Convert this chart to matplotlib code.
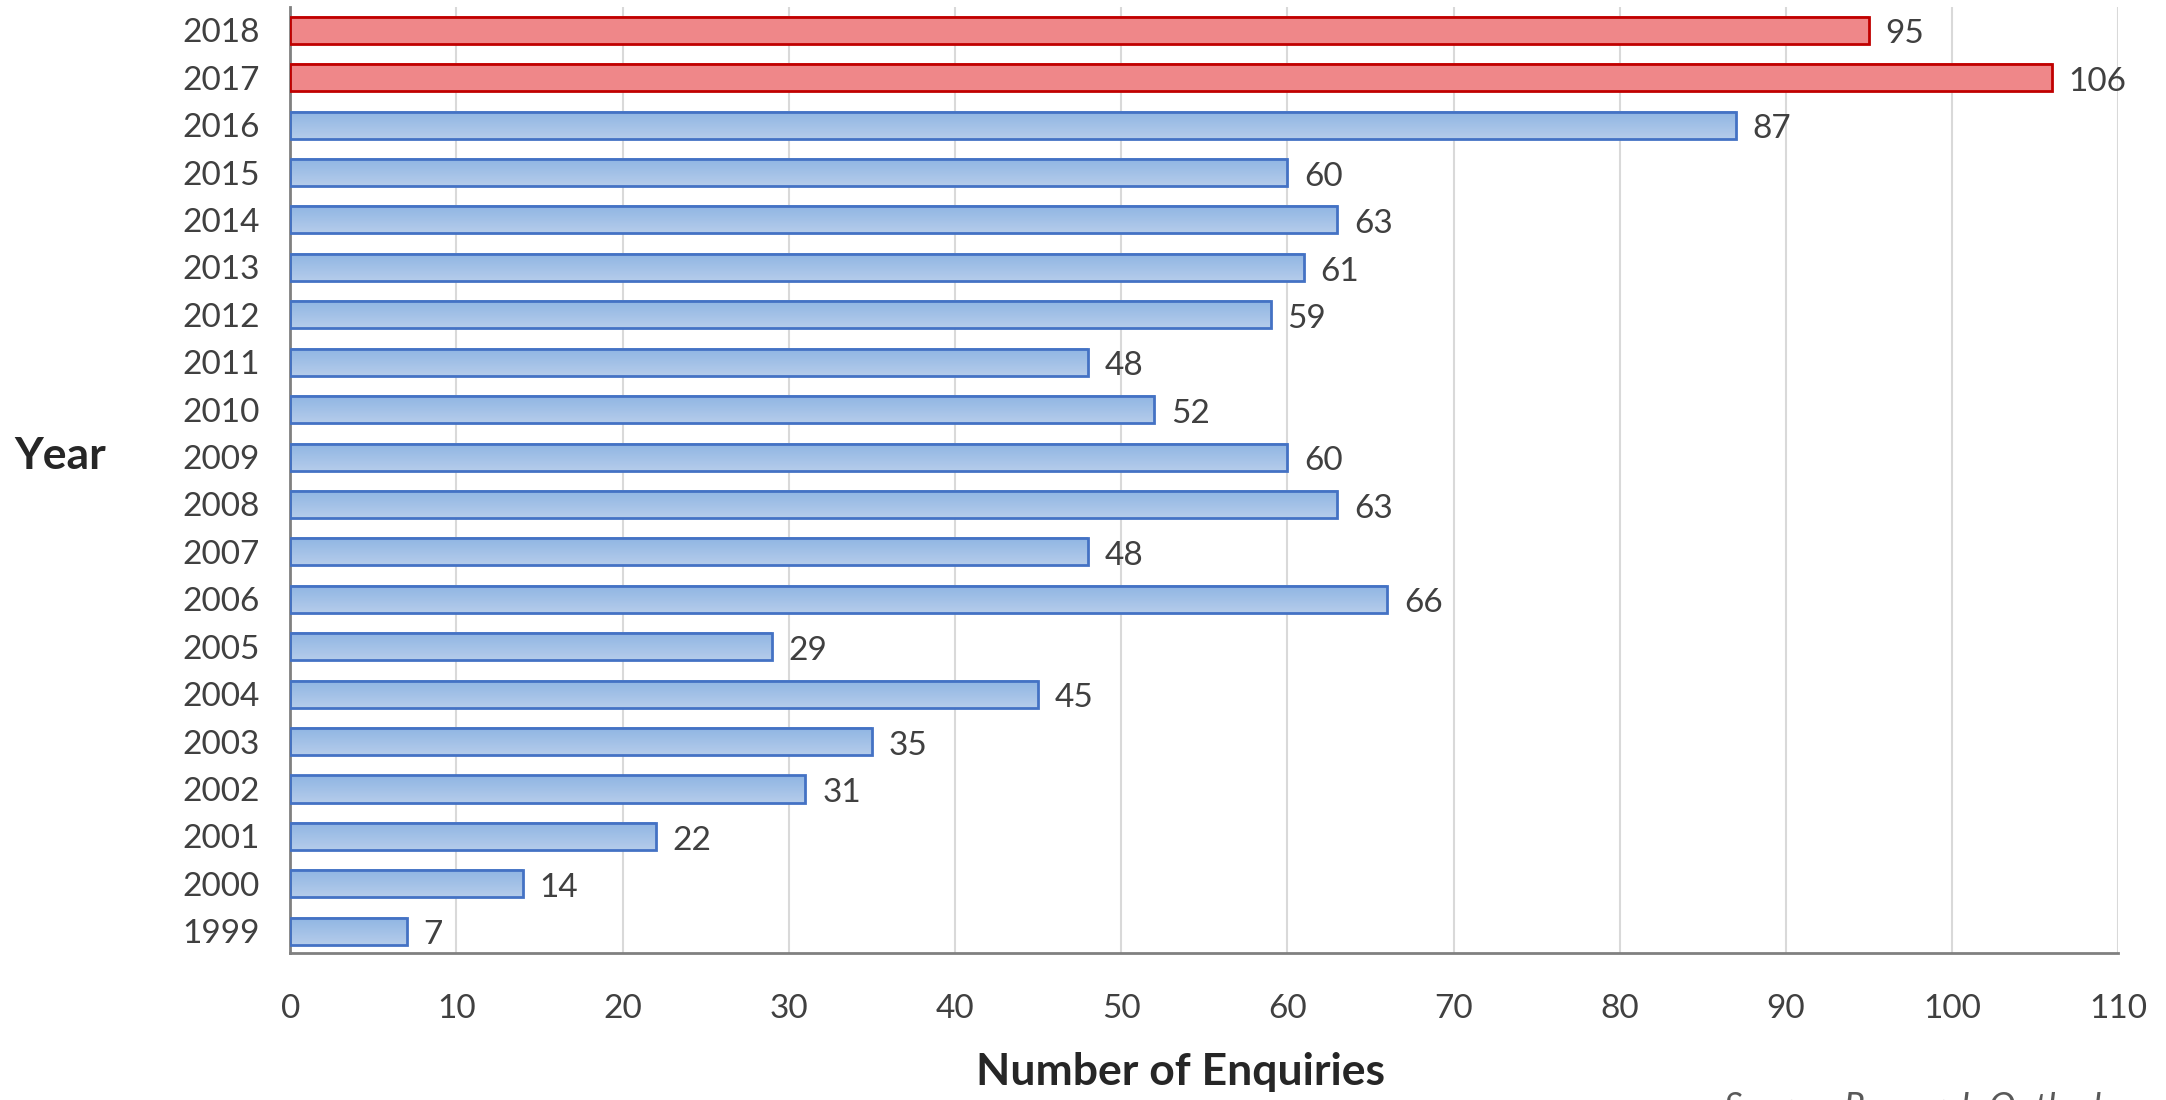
import numpy as np
import matplotlib.pyplot as plt

plt.rcParams['font.family'] = ['Lato', 'DejaVu Sans']

# Dados do gráfico.
years = ['1999', '2000', '2001', '2002', '2003', '2004', '2005', '2006', '2007', '2008',
         '2009', '2010', '2011', '2012', '2013', '2014', '2015', '2016', '2017', '2018']
enquiries = [7, 14, 22, 31, 35, 45, 29, 66, 48, 63,
             60, 52, 48, 59, 61, 63, 60, 87, 106, 95]
highlight = ['2017', '2018']   # anos em vermelho
x_ticks = list(range(0, 111, 10))

fig = plt.figure(figsize=(21.66, 11), dpi=100)
ax = fig.add_axes([0.134, 0.134, 0.844, 0.860])

y = np.arange(len(years))
edges = ['#c00000' if a in highlight else '#4472c4' for a in years]
bars = ax.barh(y, enquiries, height=0.57, color='none', edgecolor=edges, linewidth=2, zorder=3)

# Gradiente dentro das barras.
blue = np.array([[0.71, 0.80, 0.92], [0.56, 0.71, 0.89]])
red = np.array([[0.94, 0.53, 0.54], [0.94, 0.53, 0.54]])
for b, a in zip(bars, years):
    cols = red if a in highlight else blue
    t = np.linspace(0, 1, 50)[:, None]
    img = (cols[0] * (1 - t) + cols[1] * t)[:, None, :]
    x0, y0 = b.get_x(), b.get_y()
    ax.imshow(img, extent=[x0, x0 + b.get_width(), y0 + b.get_height(), y0],
              aspect='auto', zorder=2, interpolation='bilinear')

for yi, v in zip(y, enquiries):
    ax.annotate(str(v), (v, yi), xytext=(12, -3), textcoords='offset points',
                va='center', ha='left', fontsize=24, color='#404040')

ax.set_xlim(0, 110)
ax.set_ylim(-0.45, 19.5)
ax.set_xticks(x_ticks)
ax.set_yticks(y)
ax.set_yticklabels(years)
ax.tick_params(axis='both', length=0, labelsize=24, labelcolor='#404040')
ax.tick_params(axis='x', pad=30)
ax.tick_params(axis='y', pad=22)
ax.xaxis.grid(True, color='#d9d9d9', linewidth=1.5, zorder=0)
ax.set_axisbelow(True)
for s in ['top', 'right']:
    ax.spines[s].set_visible(False)
for s in ['left', 'bottom']:
    ax.spines[s].set_color('#808080')
    ax.spines[s].set_linewidth(2)

ax.set_xlabel('Number of Enquiries', fontsize=32, fontweight='bold', color='#262626')
ax.xaxis.set_label_coords(0.487, -0.105)
ax.set_ylabel('Year', fontsize=32, fontweight='bold', color='#262626', rotation=0, va='center')
ax.yaxis.set_label_coords(-0.126, 0.525)

fig.text(0.796, -0.008, 'Source: Research Outlook', fontsize=26, style='italic',
         color='#595959', va='center')

fig.savefig('out.png', dpi=100)
